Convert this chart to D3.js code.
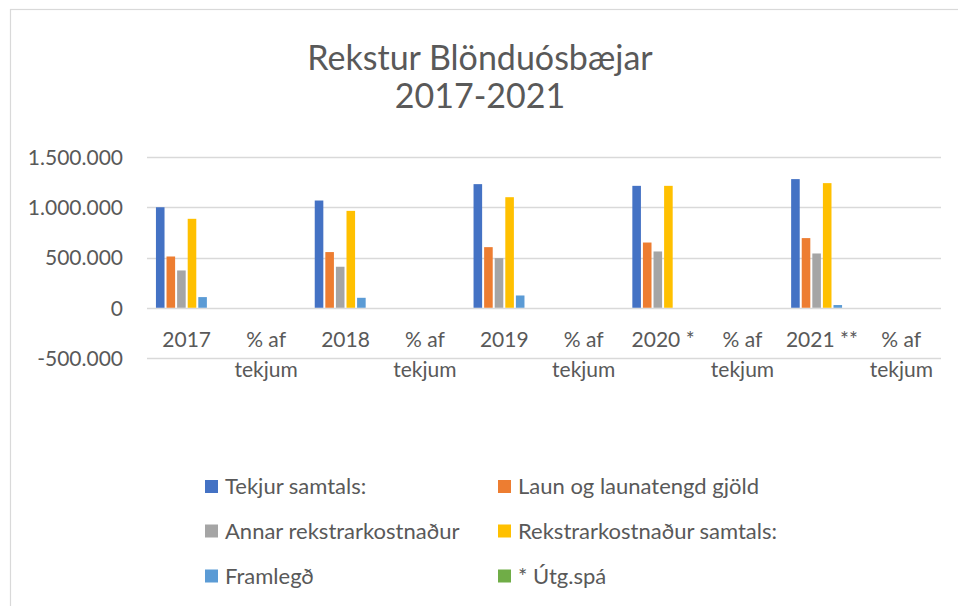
<!DOCTYPE html>
<html>
<head>
<meta charset="utf-8">
<script src="https://cdn.jsdelivr.net/npm/d3@7"></script>
<style>
  html, body { margin: 0; padding: 0; background: #fff; }
  svg { display: block; font-family: Lato, "Open Sans", sans-serif; }
</style>
</head>
<body>
<svg id="chart" width="958" height="606"></svg>
<script>
// ---- Data ----
const categories = ["2017", "% af tekjum", "2018", "% af tekjum", "2019", "% af tekjum", "2020 *", "% af tekjum", "2021 **", "% af tekjum"];
const seriesNames = ["Tekjur samtals:", "Laun og launatengd gjöld", "Annar rekstrarkostnaður", "Rekstrarkostnaður samtals:", "Framlegð", "* Útg.spá"];
const tekjur     = [1000000, null, 1067000, null, 1230000, null, 1213000, null, 1280000, null];
const laun       = [ 510000, null,  554000, null,  603000, null,  649000, null,  693000, null];
const annar      = [ 371000, null,  408000, null,  494000, null,  560000, null,  540000, null];
const rekstrarks = [ 885000, null,  964000, null, 1100000, null, 1213000, null, 1240000, null];
const framlegd   = [ 106000, null,   99000, null,  122000, null,       0, null,   27000, null];
const utgspa     = [   null, null,    null, null,    null, null,    null, null,    null, null];
const yTicks = [-500000, 0, 500000, 1000000, 1500000];
const colors = ["#4472C4", "#ED7D31", "#A5A5A5", "#FFC000", "#5B9BD5", "#70AD47"];
const titleLines = ["Rekstur Blönduósbæjar", "2017-2021"];

const seriesValues = [tekjur, laun, annar, rekstrarks, framlegd, utgspa];

// ---- Setup ----
const svg = d3.select("#chart");
const textColor = "#595959";
const gridColor = "#d9d9d9";

// chart border (extends past the right/bottom edges)
svg.append("rect")
  .attr("x", 10.5).attr("y", 9.5)
  .attr("width", 1200).attr("height", 1200)
  .attr("fill", "none").attr("stroke", gridColor).attr("stroke-width", 1.2);

// title
svg.append("g").selectAll("text").data(titleLines).join("text")
  .attr("x", 480).attr("y", (d, i) => 70 + i * 38)
  .attr("text-anchor", "middle")
  .attr("fill", textColor)
  .attr("font-size", 34)
  .text(d => d);

const x = d3.scaleBand().domain(d3.range(categories.length)).range([147, 941]).paddingInner(0).paddingOuter(0);
const xs = d3.scaleBand().domain(d3.range(seriesNames.length)).range([0, x.bandwidth()]).paddingInner(0).paddingOuter(0.75);
const y = d3.scaleLinear().domain([-500000, 1500000]).range([358, 157]);

const loc = d3.formatLocale({ decimal: ",", thousands: ".", grouping: [3], currency: ["", ""], minus: "-" });
const fmt = loc.format(",.0f");

// gridlines + y labels
const yAxis = d3.axisLeft(y).tickValues(yTicks).tickFormat(fmt).tickSize(0).tickPadding(0);
const gy = svg.append("g").attr("transform", "translate(123,0)").call(yAxis);
gy.select(".domain").remove();
gy.selectAll("text").attr("fill", textColor).attr("font-size", 21).attr("font-family", "Lato, sans-serif").attr("dy", "0.35em");

svg.append("g").selectAll("line").data(yTicks).join("line")
  .attr("x1", 147).attr("x2", 941)
  .attr("y1", d => Math.round(y(d)) + 0.5).attr("y2", d => Math.round(y(d)) + 0.5)
  .attr("stroke", gridColor).attr("stroke-width", 1.5);

// bars
const barData = [];
seriesValues.forEach((vals, si) => {
  vals.forEach((v, ci) => {
    if (v !== null) barData.push({ si, ci, v });
  });
});
svg.append("g").selectAll("rect").data(barData).join("rect")
  .attr("x", d => x(d.ci) + xs(d.si) + 1)
  .attr("width", xs.bandwidth() - 2)
  .attr("y", d => y(Math.max(0, d.v)))
  .attr("height", d => Math.abs(y(d.v) - y(0)))
  .attr("fill", d => colors[d.si]);

// x labels (wrapped)
const wrapLines = label => {
  if (label === "% af tekjum") return ["% af", "tekjum"];
  return [label];
};
const gx = svg.append("g");
categories.forEach((c, i) => {
  const t = gx.append("text")
    .attr("x", x(i) + x.bandwidth() / 2)
    .attr("y", 347)
    .attr("text-anchor", "middle")
    .attr("fill", textColor)
    .attr("font-size", 21);
  wrapLines(c).forEach((ln, k) => {
    t.append("tspan").attr("x", x(i) + x.bandwidth() / 2).attr("dy", k === 0 ? 0 : 30).text(ln);
  });
});

// legend
const legCols = [205, 498];
const legRows = [486.5, 531, 576];
const leg = svg.append("g").selectAll("g").data(seriesNames).join("g")
  .attr("transform", (d, i) => `translate(${legCols[i % 2]},${legRows[Math.floor(i / 2)]})`);
leg.append("rect").attr("x", 0).attr("y", -6.5).attr("width", 13).attr("height", 13).attr("fill", (d, i) => colors[i]);
leg.append("text").attr("x", 20).attr("y", 0).attr("dy", "0.36em")
  .attr("fill", textColor).attr("font-size", 22).text(d => d);
</script>
</body>
</html>
